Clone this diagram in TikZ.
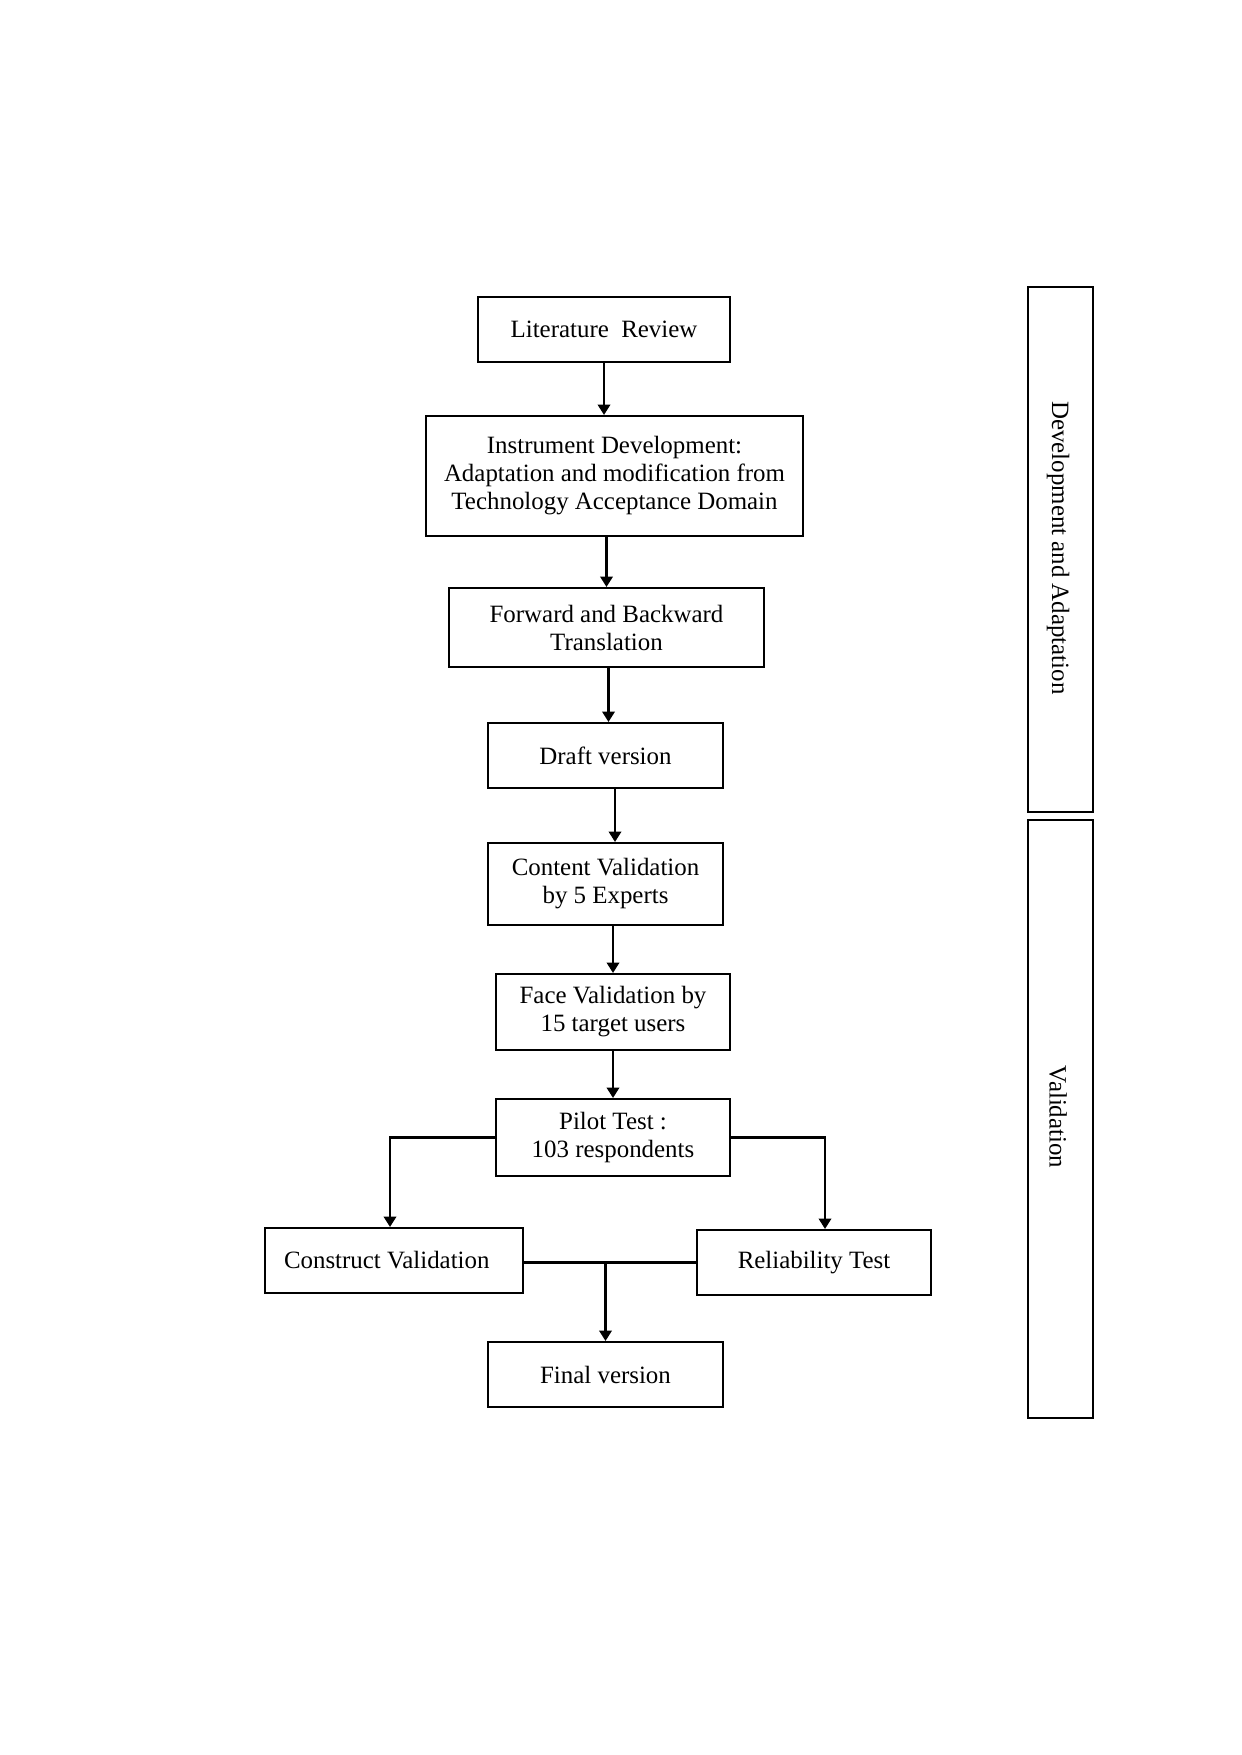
\documentclass[tikz,border=0pt]{standalone}
\usepackage{fontspec}
\setmainfont{Liberation Serif}
\usetikzlibrary{arrows.meta,calc}
\begin{document}
\begin{tikzpicture}[x=0.4818pt,y=-0.4818pt,
  box/.style={draw=black,line width=1pt,align=center,inner sep=0pt,
    font=\fontsize{12}{13.5}\selectfont},
  side/.style={draw=black,line width=1.1pt,inner sep=0pt},
  sidetext/.style={rotate=-90,inner sep=0pt,font=\fontsize{12}{14}\selectfont},
  conn/.style={line width=1pt},
  arr/.style={conn,-{Triangle[width=6pt,length=5pt]}}]
\useasboundingbox (0,0) rectangle (1241,1755);
\node[box,minimum width=252*0.4818pt,minimum height=65*0.4818pt] (lit) at (604,329.5) {Literature\ \ Review};
\node[box,minimum width=377*0.4818pt,minimum height=120*0.4818pt] (inst) at (614.5,476) {Instrument Development:\\Adaptation and modification from\\Technology Acceptance Domain};
\node[box,minimum width=315*0.4818pt,minimum height=79*0.4818pt] (fwd) at (606.5,627.5) {Forward and Backward\\Translation};
\node[box,minimum width=235*0.4818pt,minimum height=65*0.4818pt] (draft) at (605.5,755.5) {Draft version};
\node[box,minimum width=235*0.4818pt,minimum height=82*0.4818pt] (content) at (605.5,884) {Content Validation\\by 5 Experts};
\node[box,minimum width=234*0.4818pt,minimum height=76*0.4818pt] (face) at (613,1012) {Face Validation by\\15 target users};
\node[box,minimum width=234*0.4818pt,minimum height=77*0.4818pt] (pilot) at (613,1137.5) {Pilot Test :\\103 respondents};
\node[box,minimum width=258*0.4818pt,minimum height=65*0.4818pt] (construct) at (394,1260.5) {Construct Validation\hspace{7pt}};
\node[box,minimum width=234*0.4818pt,minimum height=65*0.4818pt] (reliab) at (814,1262.5) {Reliability Test};
\node[box,minimum width=235*0.4818pt,minimum height=65*0.4818pt] (final) at (605.5,1374.5) {Final version};
\node[side,minimum width=65*0.4818pt,minimum height=525*0.4818pt] (dev) at (1060.5,549.5) {};
\node[sidetext] (devtext) at (1058,548) {Development and Adaptation};
\node[side,minimum width=65*0.4818pt,minimum height=598*0.4818pt] (val) at (1060.5,1119) {};
\node[sidetext] (valtext) at (1058,1117) {Validation};
\draw[arr] (lit.south) -- (lit.south |- inst.north);
\draw[arr] (fwd.north |- inst.south) -- (fwd.north);
\draw[arr] ($(draft.north |- fwd.south)+(3,0)$) -- ($(draft.north)+(3,0)$);
\draw[arr] ($(draft.south)+(9.5,0)$) -- ($(content.north)+(9.5,0)$);
\draw[arr] (face.north |- content.south) -- (face.north);
\draw[arr] (face.south) -- (pilot.north);
\draw[arr] (pilot.west) -| ($(construct.north)+(-4,0)$);
\draw[arr] (pilot.east) -| ($(reliab.north)+(11,0)$);
\draw[conn] (construct.east |- reliab.west) -- (reliab.west);
\draw[arr] (final.north |- reliab.west) -- (final.north);
\end{tikzpicture}
\end{document}
